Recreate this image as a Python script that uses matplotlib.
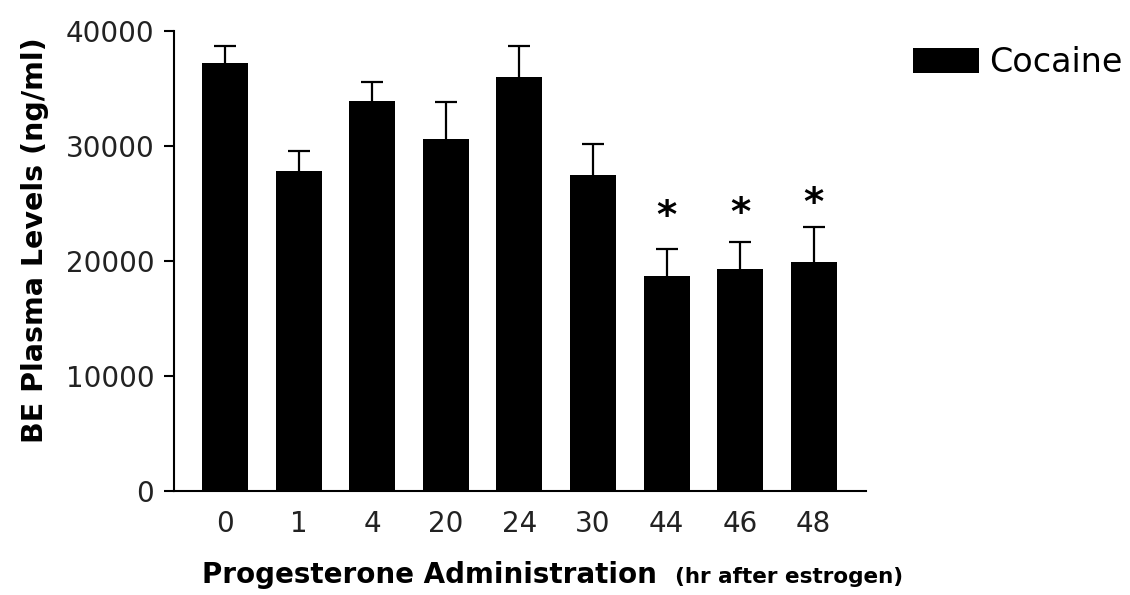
import matplotlib
matplotlib.use("Agg")
import matplotlib.pyplot as plt
import numpy as np

# Benzoylecgonine plasma levels after cocaine, by progesterone timing
hours = ["0", "1", "4", "20", "24", "30", "44", "46", "48"]
be_mean = [37150, 27800, 33900, 30550, 36000, 27450, 18700, 19300, 19900]
be_sem = [1550, 1720, 1680, 3270, 2700, 2670, 2280, 2300, 3000]
significant = [False, False, False, False, False, False, True, True, True]
star_height = [0, 0, 0, 0, 0, 0, 24470, 24700, 25630]

plt.rcParams["font.family"] = ["DejaVu Sans"]

W, H = 1130, 595
fig = plt.figure(figsize=(W / 100, H / 100), dpi=100)
ax = fig.add_axes([174 / W, 1 - 490.5 / H, (866 - 174) / W, (490.5 - 30.7) / H])

x = np.arange(len(hours))
mean = np.array(be_mean)
sem = np.array(be_sem)
ax.bar(x, mean, width=0.625, color="black", label="Cocaine", zorder=2)
# upper-only error bars: stem plus a cap at the top
ax.errorbar(x, mean, yerr=[np.zeros(len(sem)), sem], fmt="none",
            ecolor="black", elinewidth=1.6, capsize=0, zorder=1)
ax.plot(x, mean + sem, linestyle="none", marker="_", markersize=16,
        markeredgewidth=1.6, color="black", zorder=1)

for xi, sig, sy in zip(x, significant, star_height):
    if sig:
        ax.annotate("*", xy=(xi, sy), xytext=(0, -13.5), textcoords="offset points",
                    ha="center", va="baseline", fontsize=28, fontweight="bold")

ax.set_xlim(-0.696, 8.711)
ax.set_ylim(0, 40000)
ax.set_yticks([0, 10000, 20000, 30000, 40000])
ax.set_xticks(x)
ax.set_xticklabels(hours)

for side in ("top", "right"):
    ax.spines[side].set_visible(False)
for side in ("left", "bottom"):
    ax.spines[side].set_linewidth(1.5)

ax.tick_params(axis="y", length=7.2, width=1.5, pad=7, labelsize=20, labelcolor="#222222")
ax.tick_params(axis="x", length=0, pad=14, labelsize=20, labelcolor="#222222")

fig.text(35 / W, 1 - 240.5 / H, "BE Plasma Levels (ng/ml)", rotation=90,
         ha="center", va="center", fontsize=20.5, fontweight="bold")
fig.text(201.7 / W, 1 - 583.3 / H, "Progesterone Administration",
         ha="left", va="baseline", fontsize=20, fontweight="bold")
fig.text(675 / W, 1 - 583.3 / H, "(hr after estrogen)",
         ha="left", va="baseline", fontsize=15.5, fontweight="bold")

ax.legend(loc="upper left", bbox_to_anchor=(912.7 / W, 1 - 46 / H),
          bbox_transform=fig.transFigure, frameon=False, fontsize=24,
          handlelength=2.0, handleheight=0.75, handletextpad=0.3, borderpad=0,
          borderaxespad=0)

fig.savefig("out.png", dpi=100)
